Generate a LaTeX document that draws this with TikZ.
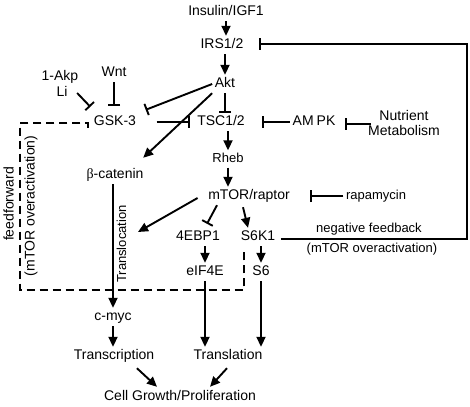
\documentclass[tikz,border=0pt]{standalone}
\usepackage{fontspec}
\setmainfont{Liberation Sans}
\newfontfamily\grkfont{Liberation Serif}
\usetikzlibrary{arrows.meta}

\begin{document}
\begin{tikzpicture}[x=1pt,y=-1pt,
    txt/.style={font=\fontsize{14}{15}\selectfont, inner sep=2.5pt},
    lbl/.style={txt, text height=10pt, text depth=3pt},
    sml/.style={font=\fontsize{13}{15}\selectfont, inner sep=2.5pt, text height=9pt, text depth=3pt},
    act/.style={-{Triangle[length=10pt,width=9pt]}, line width=1.9pt},
    inh/.style={-{Bar[width=12pt]}, line width=1.9pt},
    ffbox/.style={line width=1.7pt, dash pattern=on 8pt off 5pt}]
        \useasboundingbox (0,0) rectangle (470,406);

        % upstream
        \node [lbl] (ins) at (226,12) {Insulin/IGF1};
        \node [lbl] (irs) at (222,45) {IRS1/2};
        \node [lbl] (akt) at (225,84) {Akt};
        \node [lbl] (wnt) at (114,73) {Wnt};
        \node [lbl] (akp) at (60,77) {1-Akp};
        \node [lbl] (li) at (62,93) {Li};
        \node [lbl] (gsk) at (115,122) {GSK-3};
        \node [lbl] (tsc) at (221,122) {TSC1/2};
        \node [lbl] (ampk) at (314,122) {AM\hspace{3pt}PK};
        \node [txt, align=center] (nutr) at (404,123) {Nutrient\\Metabolism};
        \node [sml] (rheb) at (228,159) {Rheb};
        \node [lbl] (cat) at (115,175) {{\grkfont β}-catenin};
        \node [lbl] (mtor) at (249,196) {mTOR/raptor};
        \node [sml] (rapa) at (376,196) {rapamycin};

        % downstream
        \node [lbl] (ebp) at (198,237) {4EBP1};
        \node [lbl] (s6k) at (258,237) {S6K1};
        \node [lbl] (eif) at (205,272) {eIF4E};
        \node [lbl] (s6) at (261,272) {S6};
        \node [lbl] (myc) at (113,317) {c-myc};
        \node [lbl] (trc) at (114,356) {Transcription};
        \node [lbl] (trl) at (228,356) {Translation};
        \node [lbl] (cell) at (180,397) {Cell Growth/Proliferation};

        % side labels
        \node [sml, rotate=90] (transloc) at (123,244) {Translocation};
        \node [lbl, rotate=90] (ff) at (10,204) {feedforward};
        \node [lbl, rotate=90] (ffov) at (31,206) {(mTOR overactivation)};
        \node [sml] (negfb) at (369,229) {negative feedback};
        \node [sml] (negov) at (372,249) {(mTOR overactivation)};
        \coordinate (tlocend) at (138,232);

        \draw[act] (ins.south) -- (ins.south |- irs.north);
        \draw[act] (akt.north |- irs.south) -- (akt.north);
        \draw[inh] (akt.south) -- (akt.south |- tsc.north);
        \draw[inh] (akt.west) -- ([shift={(7,-3)}]gsk.north east);
        \draw[act] (akt.south west) -- ([shift={(-3,-8)}]cat.north east);
        \draw[inh, shorten >=7pt] (wnt.south) -- (wnt |- gsk.north);
        \draw[inh] ([shift={(7,0)}]li.east) -- ([shift={(-1,-6)}]gsk.north west);
        \draw[inh] ([shift={(18,0)}]gsk.east) -- ([shift={(-5,0)}]tsc.west);
        \draw[inh] (ampk.west) -- ([shift={(15,0)}]tsc.east);
        \draw[inh] ([shift={(5,1)}]nutr.west) -- ([shift={(7,2)}]ampk.east);
        \draw[act] (rheb.north |- tsc.south) -- (rheb.north);
        \draw[act] (rheb.south) -- (rheb.south |- mtor.north);
        \draw[inh] (rapa.west) -- ([shift={(18,0)}]mtor.east);

        \draw[act] ([shift={(-8,2)}]mtor.west) -- (tlocend);
        \draw[inh] ([shift={(-32,0)}]mtor.south) -- ([shift={(9,-4)}]ebp.north);
        \draw[act] ([shift={(-6,2)}]mtor.south) -- ([shift={(-10,0)}]s6k.north);
        \draw[act] (eif.north |- ebp.south) -- (eif.north);
        \draw[act] (s6.north |- s6k.south) -- (s6.north);
        \draw[act] (eif.south) -- (eif.south |- trl.north);
        \draw[act] (s6.south) -- (s6.south |- trl.north);
        \draw[act] (myc.north |- cat.south) -- (myc.north);
        \draw[act] (myc.south) -- (myc.south |- trc.north);
        \draw[act] ([shift={(-20,3)}]trc.south east) -- ([shift={(-23,-1)}]cell.north);
        \draw[act] ([shift={(-1,3)}]trl.south) -- ([shift={(30,-1)}]cell.north);

        % negative feedback loop
        \draw[inh] ([shift={(3,2)}]s6k.east) -- ++(186,0) |- ([shift={(13,-1)}]irs.east);

        % feedforward box
        \draw[ffbox] ([shift={(-3,6)}]gsk.west) |- (20,123) |- (244,290) -- (244,250);

    \end{tikzpicture}
\end{document}
